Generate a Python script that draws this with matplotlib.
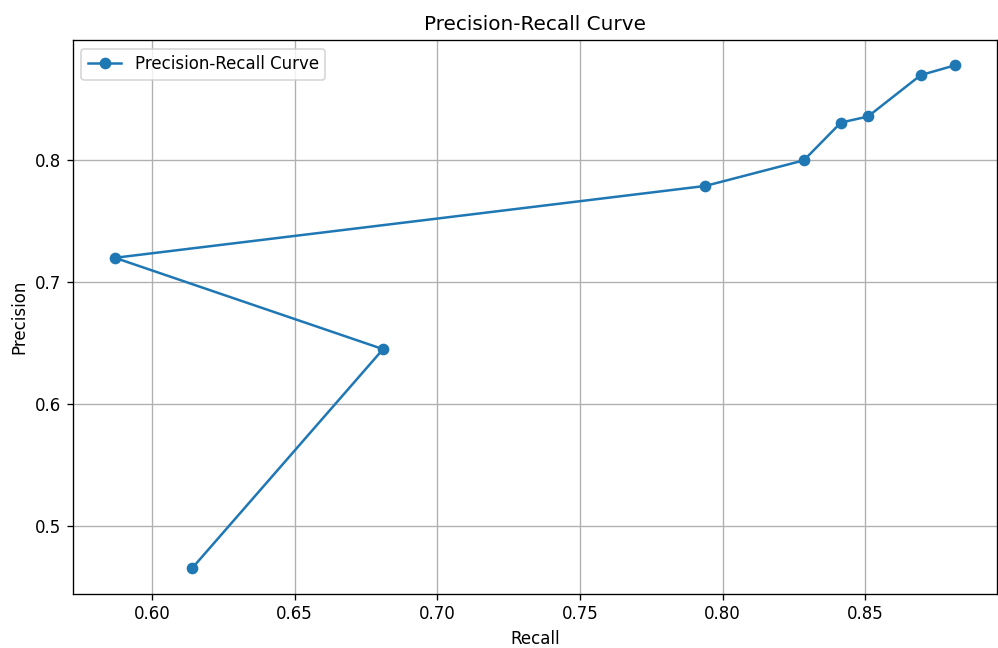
import matplotlib
matplotlib.use('Agg')
import matplotlib.pyplot as plt

# recall / precision pairs
recall = [0.614, 0.681, 0.587, 0.794, 0.8285, 0.8415, 0.851, 0.8695, 0.8815]
precision = [0.465, 0.645, 0.720, 0.779, 0.800, 0.831, 0.836, 0.870, 0.878]

fig = plt.figure(figsize=(8.325, 5.4), dpi=120)
plt.subplots_adjust(left=0.073, right=0.998, top=0.938, bottom=0.084)

plt.plot(recall, precision, marker='o', label='Precision-Recall Curve')
plt.xlabel('Recall')
plt.ylabel('Precision')
plt.title('Precision-Recall Curve')
plt.legend(loc='upper left')
plt.grid(True)

plt.savefig('out.png', dpi=120)
